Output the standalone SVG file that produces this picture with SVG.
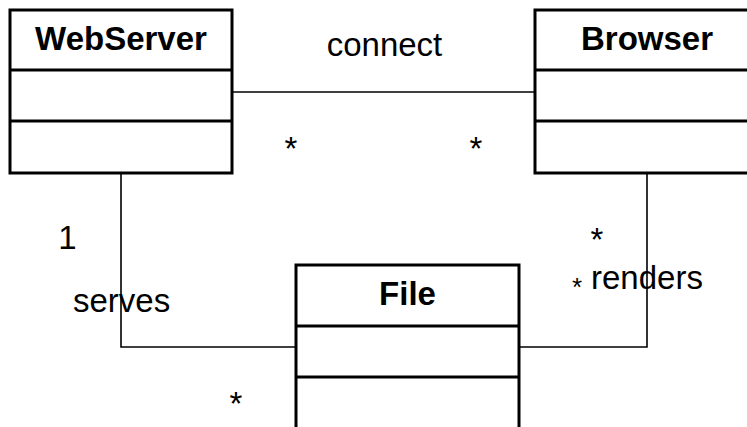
<svg xmlns="http://www.w3.org/2000/svg" width="747" height="427" viewBox="0 0 747 427">
  <style>
    .box { fill: #ffffff; stroke: #000000; stroke-width: 3; }
    .div { stroke: #000000; stroke-width: 3; }
    .conn { fill: none; stroke: #000000; stroke-width: 1.6; }
    .name { font-family: "Liberation Sans", Arial, sans-serif; font-weight: bold; font-size: 33px; text-anchor: middle; fill: #000; }
    .lbl { font-family: "Liberation Sans", Arial, sans-serif; font-size: 33px; fill: #000; }
  </style>

  <!-- associations -->
  <g id="connectors">
    <line class="conn" x1="233" y1="92" x2="535" y2="92"/>
    <polyline class="conn" points="121,173 121,347 296,347"/>
    <polyline class="conn" points="647,173 647,347 519,347"/>
  </g>

  <!-- association labels and multiplicities -->
  <g id="labels">
    <text class="lbl" x="384.5" y="56" text-anchor="middle">connect</text>
    <text class="lbl" x="291" y="160" text-anchor="middle">*</text>
    <text class="lbl" x="476" y="160" text-anchor="middle">*</text>
    <text class="lbl" x="67.5" y="249" text-anchor="middle">1</text>
    <text class="lbl" x="73" y="312">serves</text>
    <text class="lbl" x="236" y="415" text-anchor="middle">*</text>
    <text class="lbl" x="597" y="251" text-anchor="middle">*</text>
    <text class="lbl" x="577" y="296" text-anchor="middle" style="font-size:26px">*</text>
    <text class="lbl" x="591" y="289">renders</text>
  </g>

  <g id="WebServer">
    <rect class="box" x="10" y="10" width="222" height="163"/>
    <line class="div" x1="10" y1="70" x2="232" y2="70"/>
    <line class="div" x1="10" y1="121" x2="232" y2="121"/>
    <text class="name" x="121" y="50">WebServer</text>
  </g>

  <g id="Browser">
    <rect class="box" x="535" y="10" width="230" height="163"/>
    <line class="div" x1="535" y1="70" x2="765" y2="70"/>
    <line class="div" x1="535" y1="121" x2="765" y2="121"/>
    <text class="name" x="647" y="50">Browser</text>
  </g>

  <g id="File">
    <rect class="box" x="296" y="265" width="223" height="180"/>
    <line class="div" x1="296" y1="326" x2="519" y2="326"/>
    <line class="div" x1="296" y1="377" x2="519" y2="377"/>
    <text class="name" x="407.5" y="305">File</text>
  </g>
</svg>
